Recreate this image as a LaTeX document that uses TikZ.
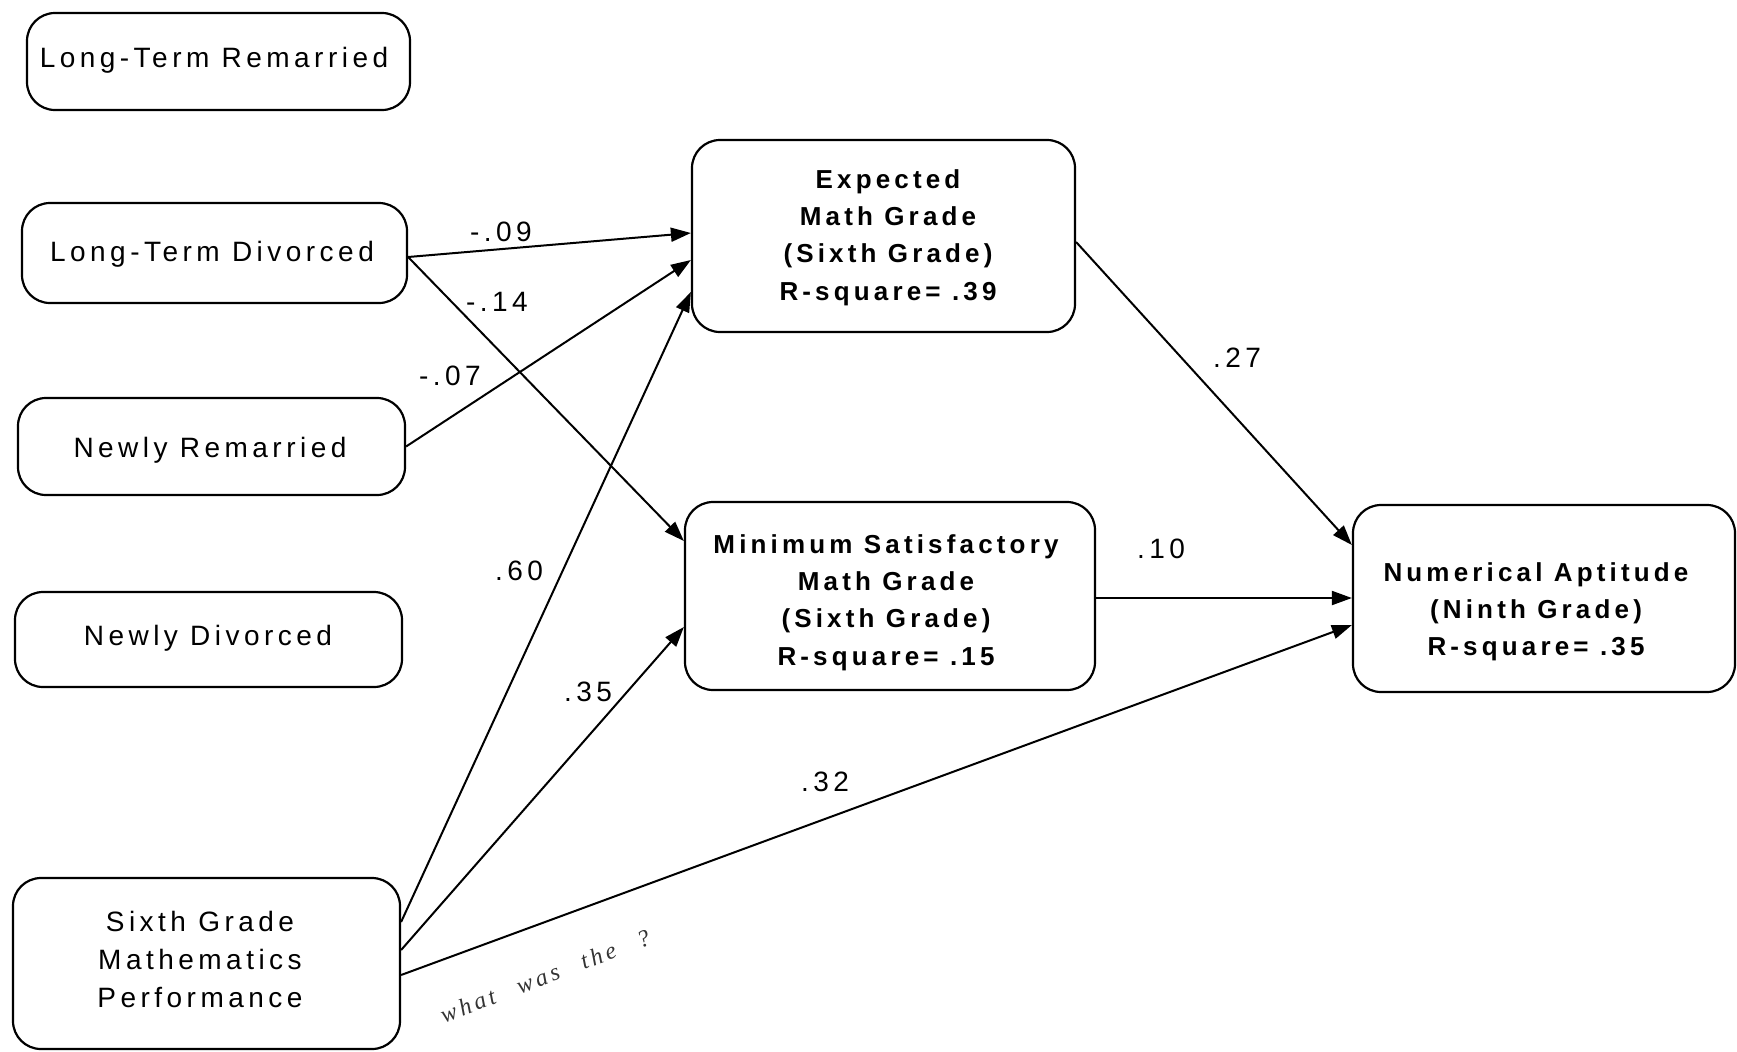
\documentclass[tikz,border=0pt]{standalone}
\usepackage{fontspec}
\setmainfont{Liberation Sans}[LetterSpace=16]
\newfontfamily\handfont{Liberation Serif}[LetterSpace=15]
\usetikzlibrary{arrows.meta,calc}
\begin{document}
\begin{tikzpicture}[x=0.5pt,y=-0.5pt,
  frame/.style={draw, line width=1.1pt, rounded corners=14pt, inner sep=0pt},
  lefttext/.style={font=\fontsize{14}{19}\selectfont, align=center, anchor=base, inner sep=0pt},
  righttext/.style={font=\fontsize{13}{18.6}\selectfont\bfseries, align=center, anchor=base, inner sep=0pt},
  coef/.style={font=\fontsize{14}{17}\selectfont, inner sep=0pt},
  link/.style={line width=1pt, -{Triangle[length=10pt,width=7pt]}}
]
\useasboundingbox (0,0) rectangle (1737,1051);

% frames
\node[frame, minimum width=191.5pt, minimum height=48.5pt] (ltr) at (218.5,61.5) {};
\node[frame, minimum width=192.5pt, minimum height=50pt] (ltd) at (214.5,253) {};
\node[frame, minimum width=193.5pt, minimum height=48.5pt] (nr) at (211.5,446.5) {};
\node[frame, minimum width=193.5pt, minimum height=47.5pt] (nd) at (208.5,639.5) {};
\node[frame, minimum width=193.5pt, minimum height=85.5pt] (sgmp) at (206.5,963.5) {};
\node[frame, minimum width=191.5pt, minimum height=96pt] (emg) at (883.5,236) {};
\node[frame, minimum width=205pt, minimum height=94pt] (msmg) at (890,596) {};
\node[frame, minimum width=191pt, minimum height=93.5pt] (na) at (1544,598.5) {};

% texts (multi-line: anchor base = baseline of the last line)
\node[lefttext] (ltrT) at (214,67) {Long-Term Remarried};
\node[lefttext] (ltdT) at (212,261) {Long-Term Divorced};
\node[lefttext] (nrT) at (210,457) {Newly Remarried};
\node[lefttext] (ndT) at (208,645) {Newly Divorced};
\node[lefttext] (sgmpT) at (200,1007) {Sixth Grade\\Mathematics\\Performance};
\node[righttext] (emgT) at (888,300) {Expected\\Math Grade\\(Sixth Grade)\\R-square= .39};
\node[righttext] (msmgT) at (886,665) {Minimum Satisfactory\\Math Grade\\(Sixth Grade)\\R-square= .15};
\node[righttext, font=\fontsize{13}{18.3}\selectfont\bfseries] (naT) at (1536,655) {Numerical Aptitude\\(Ninth Grade)\\R-square= .35};

% connectors
\draw[link] ($(ltd.east)+(0,4)$) -- ($(emg.west)+(0,-3)$);
\draw[link] ($(ltd.east)+(0,4)$) -- ($(msmg.west)+(0,-55)$);
\draw[link] (nr.east) -- ($(emg.west)+(0,24)$);
\draw[link] ($(sgmp.east)+(0,-41.5)$) -- ($(emg.west)+(0,56)$);
\draw[link] ($(sgmp.east)+(0,-13.5)$) -- ($(msmg.west)+(0,31)$);
\draw[link] ($(sgmp.east)+(0,11.5)$) -- ($(na.west)+(0,26.5)$);
\draw[link] ($(emg.east)+(0,6)$) -- ($(na.west)+(0,-53.5)$);
\draw[link] ($(msmg.east)+(0,2)$) -- ($(na.west)+(0,-0.5)$);

% coefficients
\node[coef] (c09) at (501,232) {-.09};
\node[coef] (c14) at (497,302) {-.14};
\node[coef] (c07) at (450,376) {-.07};
\node[coef] (c60) at (519,571) {.60};
\node[coef] (c35) at (588,692) {.35};
\node[coef] (c32) at (825,782) {.32};
\node[coef] (c27) at (1237,358) {.27};
\node[coef] (c10) at (1161,549) {.10};

% handwritten note
\node[font=\handfont\itshape\fontsize{12}{12}\selectfont, rotate=21, text=black!80, inner sep=0pt] (note) at (545,976) {what\hspace{12pt}was\hspace{12pt}the\hspace{12pt}?};
\end{tikzpicture}
\end{document}
